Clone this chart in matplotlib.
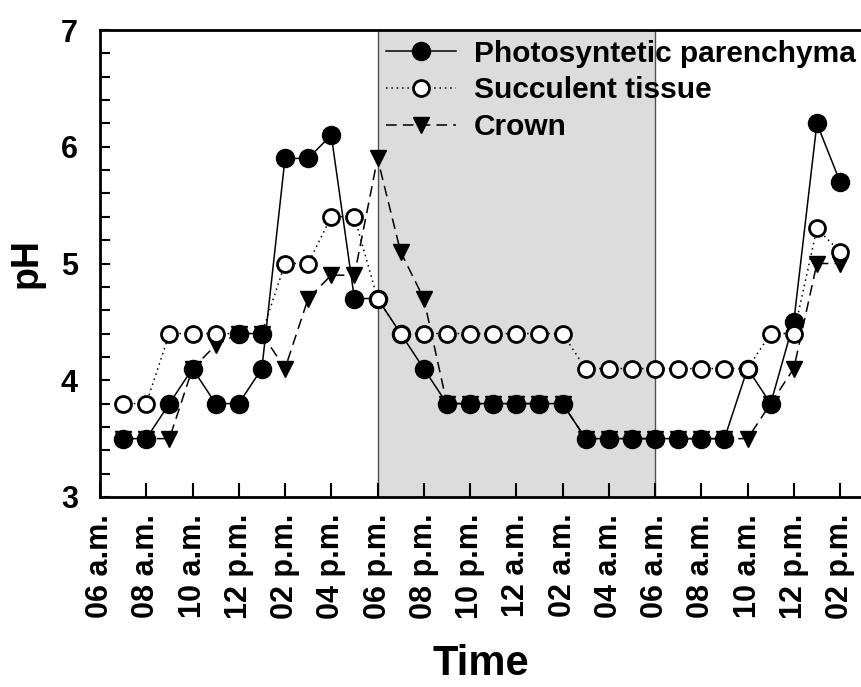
import matplotlib
matplotlib.use("Agg")
import matplotlib.pyplot as plt
from matplotlib.ticker import MultipleLocator

plt.rcParams['font.family'] = ['Liberation Sans', 'DejaVu Sans']
plt.rcParams['font.weight'] = 'bold'

hours = list(range(7, 39))
photosynthetic = [3.5, 3.5, 3.8, 4.1, 3.8, 3.8, 4.1, 5.9, 5.9, 6.1, 4.7, 4.7, 4.4, 4.1,
                  3.8, 3.8, 3.8, 3.8, 3.8, 3.8, 3.5, 3.5, 3.5, 3.5, 3.5, 3.5, 3.5,
                  4.1, 3.8, 4.5, 6.2, 5.7]
succulent = [3.8, 3.8, 4.4, 4.4, 4.4, 4.4, 4.4, 5.0, 5.0, 5.4, 5.4, 4.7, 4.4, 4.4,
             4.4, 4.4, 4.4, 4.4, 4.4, 4.4, 4.1, 4.1, 4.1, 4.1, 4.1, 4.1, 4.1,
             4.1, 4.4, 4.4, 5.3, 5.1]
crown = [3.5, 3.5, 3.5, 4.1, 4.3, 4.4, 4.4, 4.1, 4.7, 4.9, 4.9, 5.9, 5.1, 4.7,
         3.8, 3.8, 3.8, 3.8, 3.8, 3.8, 3.5, 3.5, 3.5, 3.5, 3.5, 3.5, 3.5,
         3.5, 3.8, 4.1, 5.0, 5.0]
# succulent points that appear drawn with filled markers in the original
succulent_filled_hours = [12, 13]

tick_positions = list(range(6, 39, 2))
tick_labels = ["06 a.m.", "08 a.m.", "10 a.m.", "12 p.m.", "02 p.m.", "04 p.m.",
               "06 p.m.", "08 p.m.", "10 p.m.", "12 a.m.", "02 a.m.", "04 a.m.",
               "06 a.m.", "08 a.m.", "10 a.m.", "12 p.m.", "02 p.m."]
night_start, night_end = 18, 30

fig = plt.figure(figsize=(8.62, 6.87), dpi=100)
ax = fig.add_axes([100/862, 190/687, 1 - 100/862, 467/687])

ax.axvspan(night_start, night_end, facecolor='#dcdcdc', edgecolor='#505050',
           linewidth=1.0, zorder=0)

ms = 13
ax.plot(hours, crown, linestyle=(0, (7, 4)), color='black', lw=1.1,
        marker='v', ms=12, mfc='black', mec='black', zorder=2, label='Crown')
ax.plot(hours, photosynthetic, linestyle='-', color='black', lw=1.1,
        marker='o', ms=ms, mfc='black', mec='black', zorder=3,
        label='Photosyntetic parenchyma')
ax.plot(hours, succulent, linestyle=(0, (1, 2.5)), color='black', lw=1.1,
        marker='o', ms=ms - 1.5, mfc='white', mec='black', mew=2.0, zorder=4,
        label='Succulent tissue')
fx = [h for h in hours if h in succulent_filled_hours]
fy = [succulent[hours.index(h)] for h in fx]
ax.plot(fx, fy, linestyle='none', marker='o', ms=ms, mfc='black', mec='black',
        zorder=5)

ax.set_xlim(6, 38.95)
ax.set_ylim(3, 7)
ax.set_xticks(tick_positions)
ax.set_xticklabels(tick_labels, rotation=90, fontsize=22, fontweight='bold')
ax.yaxis.set_major_locator(MultipleLocator(1))
ax.yaxis.set_minor_locator(MultipleLocator(0.2))
for lbl in ax.get_yticklabels():
    lbl.set_fontsize(22)
    lbl.set_fontweight('bold')
ax.tick_params(axis='y', which='both', direction='in', length=7, width=1.5,
               pad=16, left=True, right=False)
ax.tick_params(axis='x', which='major', direction='in', length=10, width=1.5,
               pad=12, top=False)
for side in ['left', 'bottom', 'top']:
    ax.spines[side].set_linewidth(2.0)
ax.spines['right'].set_visible(False)

ax.set_ylabel('pH', fontsize=27, fontweight='bold', labelpad=12)
ax.set_xlabel('Time', fontsize=30, fontweight='bold', labelpad=18)

handles, labels = ax.get_legend_handles_labels()
order = [1, 2, 0]
leg = ax.legend([handles[i] for i in order], [labels[i] for i in order],
                loc='upper right', bbox_to_anchor=(0.996, 0.986), frameon=False,
                prop={'size': 21.5, 'weight': 'bold'}, handlelength=2.35,
                handletextpad=0.6, labelspacing=0.3, borderaxespad=0.0,
                borderpad=0.1)

fig.savefig('out.png', dpi=100)
